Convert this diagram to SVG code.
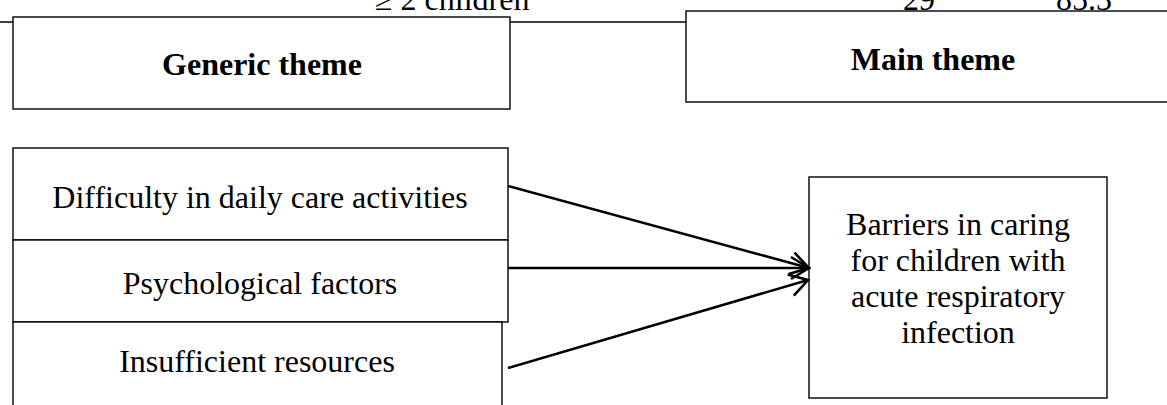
<svg xmlns="http://www.w3.org/2000/svg" width="1167" height="405" viewBox="0 0 1167 405">
<style>
.box{fill:#fff;stroke:#000;stroke-width:1.4}
.t{font-family:"Liberation Serif","Times New Roman",serif;font-size:32px;fill:#000}
.b{font-weight:bold;text-anchor:middle}
.c{text-anchor:middle}
.conn{stroke:#000;stroke-width:2.6;fill:none}
</style>
<defs>
<marker id="arr" viewBox="0 0 22 26" refX="20" refY="13" markerWidth="22" markerHeight="26" markerUnits="userSpaceOnUse" orient="auto">
<path d="M2,2 L20,13 L2,24" fill="none" stroke="#000" stroke-width="2.6"/>
</marker>
</defs>
<rect width="1167" height="405" fill="#fff"/>
<g id="table-remnant">
<line x1="0" y1="22" x2="690" y2="22" stroke="#000" stroke-width="1.4"/>
<text class="t" x="375" y="10">≥ 2 children</text>
<text class="t" x="903" y="10">29</text>
<text class="t" x="1056" y="10">85.3</text>
</g>
<g id="generic-theme">
<rect class="box" x="13" y="17" width="497" height="92"/>
<text class="t b" x="262" y="75">Generic theme</text>
</g>
<g id="main-theme">
<rect class="box" x="686" y="11" width="500" height="91"/>
<text class="t b" x="933" y="70">Main theme</text>
</g>
<g id="difficulty">
<rect class="box" x="13" y="148" width="495" height="92"/>
<text class="t c" x="260" y="208">Difficulty in daily care activities</text>
</g>
<g id="psychological">
<rect class="box" x="13" y="240" width="495" height="82"/>
<text class="t c" x="260" y="294">Psychological factors</text>
</g>
<g id="insufficient">
<rect class="box" x="13" y="322" width="489" height="95"/>
<text class="t c" x="257" y="372">Insufficient resources</text>
</g>
<g id="barriers">
<rect class="box" x="809" y="177" width="298" height="221"/>
<text class="t c" x="958" y="235">Barriers in caring</text>
<text class="t c" x="958" y="271">for children with</text>
<text class="t c" x="958" y="307">acute respiratory</text>
<text class="t c" x="958" y="343">infection</text>
</g>
<g id="connectors">
<line class="conn" x1="508" y1="186" x2="809" y2="268" marker-end="url(#arr)"/>
<line class="conn" x1="508" y1="268" x2="809" y2="268" marker-end="url(#arr)"/>
<line class="conn" x1="508" y1="368" x2="808" y2="280" marker-end="url(#arr)"/>
</g>
</svg>
